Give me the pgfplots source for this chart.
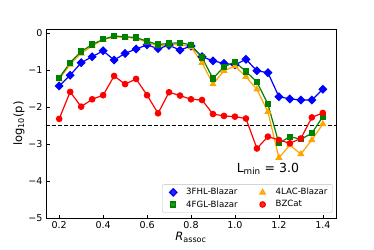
\documentclass[border=0pt]{standalone}
\usepackage{pgfplots}
\pgfplotsset{compat=1.18}
\usepackage{fontspec}
\setmainfont{DejaVu Sans}
\usetikzlibrary{calc}
\definecolor{mblue}{RGB}{0,0,255}
\definecolor{mgreen}{RGB}{0,128,0}
\definecolor{morange}{RGB}{255,165,0}
\definecolor{mred}{RGB}{255,0,0}
\begin{document}
\begin{tikzpicture}
\begin{axis}[
  scale only axis,
  width=290pt, height=189pt,
  xmin=0.14, xmax=1.46, ymin=-5, ymax=0.11,
  axis line style={black, line width=0.7pt},
  tick align=inside,
  xtick pos=bottom, ytick pos=left,
  major tick length=3.5pt,
  tick style={black, line width=0.6pt},
  xtick={0.2,0.4,0.6,0.8,1.0,1.2,1.4},
  xticklabels={0.2,0.4,0.6,0.8,1.0,1.2,1.4},
  ytick={-5,-4,-3,-2,-1,0},
  yticklabels={−5,−4,−3,−2,−1,0},
  ticklabel style={font=\fontsize{9.5}{11}\selectfont},
  xlabel={\textit{R}\textsubscript{assoc}},
  ylabel={log\textsubscript{10}(p)},
  label style={font=\fontsize{11.5}{13}\selectfont},
  xlabel style={yshift=3pt},
  ylabel style={yshift=-3pt},
  legend columns=2,
  legend cell align=left,
  legend style={at={(rel axis cs:1,0)}, anchor=south east, xshift=-3.3pt, yshift=5.3pt,
    font=\fontsize{8.6}{10}\selectfont, draw=black!25, rounded corners=2pt,
    fill=white, fill opacity=0.85, text opacity=1,
    nodes={inner sep=2pt},
    /tikz/every even column/.append style={column sep=15pt},
    inner xsep=3pt, inner ysep=2pt},
  legend image code/.code={\path[draw=none,fill=none] (-8pt,0pt) -- (11pt,0pt); \draw[#1, draw=none] plot coordinates {(0pt,0pt)};},
]
\addplot[forget plot, black, dashed, line width=1pt, dash pattern=on 4pt off 2pt] coordinates {(0.14,-2.5) (1.46,-2.5)};
\addplot[mblue, line width=1.2pt, mark=square*, mark size=2.6pt, mark options={rotate=45, draw=mblue}] coordinates {
(0.2,-1.43) (0.25,-1.14) (0.3,-0.80) (0.35,-0.64) (0.4,-0.48) (0.45,-0.73) (0.5,-0.55) (0.55,-0.43) (0.6,-0.32) (0.65,-0.42) (0.7,-0.33) (0.75,-0.46) (0.8,-0.35) (0.85,-0.64) (0.9,-0.75) (0.95,-0.82) (1.0,-0.86) (1.05,-0.71) (1.1,-1.02) (1.15,-1.07) (1.2,-1.72) (1.25,-1.78) (1.3,-1.81) (1.35,-1.81) (1.4,-1.52)};
\addlegendentry{3FHL-Blazar}
\addplot[morange, line width=1.2pt, mark=triangle*, mark size=3pt, mark options={draw=morange}] coordinates {
(0.2,-1.25) (0.25,-0.85) (0.3,-0.55) (0.35,-0.35) (0.4,-0.18) (0.45,-0.10) (0.5,-0.12) (0.55,-0.14) (0.6,-0.25) (0.65,-0.35) (0.7,-0.32) (0.75,-0.30) (0.8,-0.38) (0.85,-0.80) (0.9,-1.38) (0.95,-1.02) (1.0,-0.89) (1.05,-1.18) (1.1,-1.52) (1.15,-2.13) (1.2,-3.37) (1.25,-3.03) (1.3,-3.27) (1.35,-2.89) (1.4,-2.46)};
\addlegendentry{4LAC-Blazar}
\addplot[mgreen, line width=1.2pt, mark=square*, mark size=2.5pt, mark options={draw=mgreen}] coordinates {
(0.2,-1.21) (0.25,-0.80) (0.3,-0.50) (0.35,-0.31) (0.4,-0.17) (0.45,-0.08) (0.5,-0.10) (0.55,-0.12) (0.6,-0.22) (0.65,-0.31) (0.7,-0.28) (0.75,-0.26) (0.8,-0.32) (0.85,-0.66) (0.9,-1.23) (0.95,-0.91) (1.0,-0.78) (1.05,-1.04) (1.1,-1.32) (1.15,-1.92) (1.2,-2.98) (1.25,-2.80) (1.3,-2.87) (1.35,-2.71) (1.4,-2.26)};
\addlegendentry{4FGL-Blazar}
\addplot[mred, line width=1.2pt, mark=*, mark size=2.7pt, mark options={draw=mred}] coordinates {
(0.2,-2.32) (0.25,-1.59) (0.3,-1.99) (0.35,-1.79) (0.4,-1.68) (0.45,-1.16) (0.5,-1.38) (0.55,-1.24) (0.6,-1.68) (0.65,-2.17) (0.7,-1.60) (0.75,-1.69) (0.8,-1.79) (0.85,-1.81) (0.9,-2.19) (0.95,-2.24) (1.0,-2.26) (1.05,-2.31) (1.1,-3.12) (1.15,-2.80) (1.2,-2.89) (1.25,-2.98) (1.3,-2.85) (1.35,-2.28) (1.4,-2.16)};
\addlegendentry{BZCat}
\node[font=\fontsize{12.5}{14}\selectfont] at (axis cs:1.15,-3.67) {L\textsubscript{min} = 3.0};
\end{axis}
\pgfresetboundingbox
\path[use as bounding box] ($(current axis.south west)+(-46pt,-31pt)$) rectangle ($(current axis.north east)+(38pt,29pt)$);
\end{tikzpicture}
\end{document}
